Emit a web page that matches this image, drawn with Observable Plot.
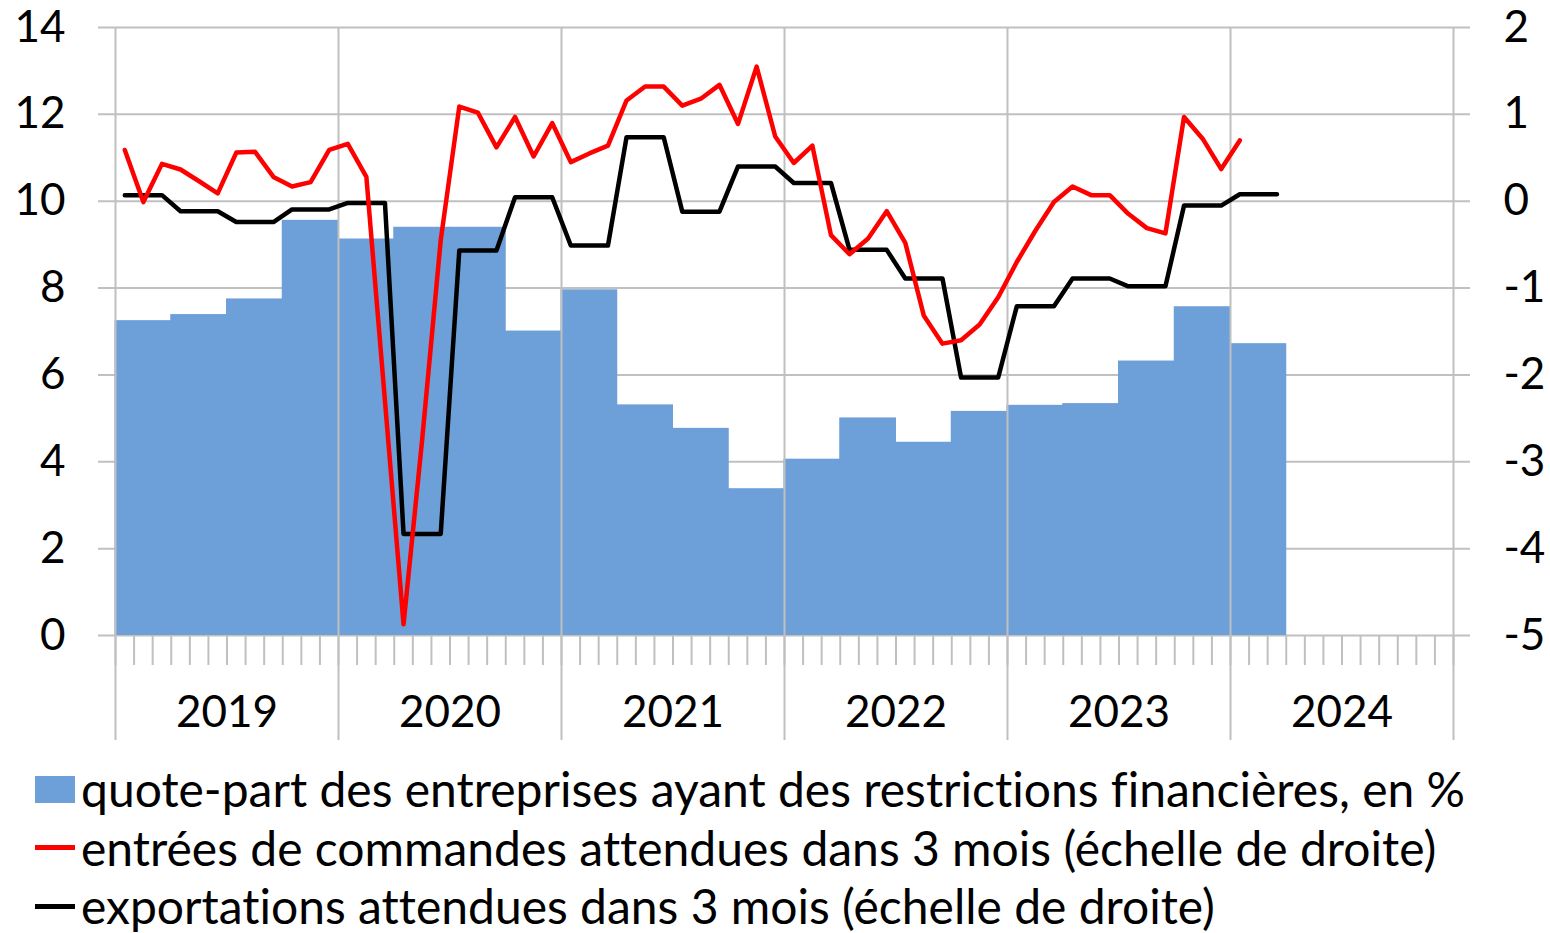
<!DOCTYPE html>
<html><head><meta charset="utf-8">
<script src="https://cdn.jsdelivr.net/npm/d3@7"></script>
<script src="https://cdn.jsdelivr.net/npm/@observablehq/plot@0.6"></script>
<style>
body{margin:0;background:#fff;font-family:Lato, sans-serif;overflow:hidden;color:#000}
#legend{padding-top:10px}
.row{display:flex;align-items:center;height:58.5px;line-height:58.5px;font-size:48px;white-space:nowrap;font-variant-ligatures:none;font-feature-settings:"liga" 0}
.sw{display:inline-block;width:40px;margin-left:35px;margin-right:6px;flex:none}
</style></head><body>
<div id="chart"></div>
<div id="legend"></div>
<script>
const years = ["2019","2020","2021","2022","2023","2024"];
// quarterly share of firms with financial restrictions, % (left axis), 2019Q1..2024Q1
const quarterShare = [7.25,7.39,7.75,9.56, 9.13,9.40,9.40,7.01, 7.96,5.31,4.77,3.38, 4.06,5.01,4.45,5.16, 5.30,5.34,6.32,7.57, 6.72];
// monthly expected order intake in 3 months (right axis), 2019-01..2024-01
const orders = [
  0.59,-0.01,0.43,0.365,0.23,0.09,0.56,0.57,0.28,0.17,0.22,0.59,
  0.66,0.28,-2.3,-4.87,-2.75,-0.45,1.09,1.02,0.62,0.97,0.515,0.90,
  0.45,0.55,0.64,1.16,1.32,1.32,1.10,1.18,1.34,0.89,1.55,0.745,
  0.44,0.64,-0.39,-0.61,-0.43,-0.115,-0.48,-1.32,-1.64,-1.60,-1.42,-1.105,
  -0.70,-0.34,-0.01,0.17,0.07,0.07,-0.145,-0.31,-0.37,0.97,0.72,0.37,
  0.70];
// monthly expected exports in 3 months (right axis), 2019-01..2024-03
const exportsExp = [
  0.07,0.07,0.07,-0.115,-0.115,-0.115,-0.24,-0.24,-0.24,-0.095,-0.095,-0.095,
  -0.02,-0.02,-0.02,-3.83,-3.83,-3.83,-0.567,-0.567,-0.567,0.046,0.046,0.046,
  -0.51,-0.51,-0.51,0.737,0.737,0.737,-0.12,-0.12,-0.12,0.40,0.40,0.40,
  0.21,0.21,0.21,-0.56,-0.56,-0.56,-0.89,-0.89,-0.89,-2.03,-2.03,-2.03,
  -1.21,-1.21,-1.21,-0.89,-0.89,-0.89,-0.98,-0.98,-0.98,-0.05,-0.05,-0.05,
  0.08,0.08,0.08];
const leftTicks = [0,2,4,6,8,10,12,14];
const rightTicks = [-5,-4,-3,-2,-1,0,1,2];
const legendLabels = [
  "quote-part des entreprises ayant des restrictions financières, en %",
  "entrées de commandes attendues dans 3 mois (échelle de droite)",
  "exportations attendues dans 3 mois (échelle de droite)"];
const colors = {bar:"#6d9fd9", orders:"#ff0000", exports:"#000000", grid:"#c0c0c0"};

// right axis value -> left axis position
const toLeft = r => (r + 5) * 2;
const nMonths = years.length * 12;
const bars = quarterShare.map((v, q) => ({x1: q * 3, x2: q * 3 + 3, v}));
const ordersData = orders.map((r, i) => ({x: i + 0.5, y: toLeft(r)}));
const exportsData = exportsExp.map((r, i) => ({x: i + 0.5, y: toLeft(r)}));
const yearBounds = d3.range(0, nMonths + 1, 12);
const monthBounds = d3.range(0, nMonths + 1);
const yearCenters = years.map((y, k) => k * 12 + 6);

const chart = Plot.plot({
  width: 1550, height: 750,
  marginLeft: 115, marginRight: 97, marginTop: 27, marginBottom: 115,
  style: {fontFamily: "Lato, sans-serif", fontSize: "44px", color: "#000", background: "#fff"},
  x: {type: "linear", domain: [0, nMonths], label: null},
  y: {domain: [0, 14], label: null},
  marks: [
    Plot.ruleY(leftTicks, {stroke: colors.grid, strokeWidth: 2, insetLeft: -17, insetRight: -17}),
    Plot.rectY(bars, {x1: "x1", x2: "x2", y: "v", fill: colors.bar, insetLeft: -0.5, insetRight: -0.5}),
    Plot.ruleX(yearBounds, {stroke: colors.grid, strokeWidth: 2, insetBottom: -105}),
    Plot.axisX(monthBounds, {tickSize: 30, stroke: colors.grid, strokeWidth: 2, tickFormat: () => "", label: null}),
    Plot.axisX(yearCenters, {tickSize: 0, tickPadding: 60, fontSize: 44, tickFormat: d => years[(d - 6) / 12], label: null}),
    Plot.axisY(leftTicks, {anchor: "left", tickSize: 0, tickPadding: 50, fontSize: 44, label: null}),
    Plot.axisY(rightTicks.map(toLeft), {anchor: "right", tickSize: 0, tickPadding: 50, textAnchor: "start", fontSize: 44, tickFormat: d => String(d / 2 - 5), label: null}),
    Plot.line(exportsData, {x: "x", y: "y", stroke: colors.exports, strokeWidth: 4.5, strokeLinejoin: "round", strokeLinecap: "round"}),
    Plot.line(ordersData, {x: "x", y: "y", stroke: colors.orders, strokeWidth: 4.5, strokeLinejoin: "round", strokeLinecap: "round"})
  ]
});
document.getElementById("chart").appendChild(chart);

const legend = document.getElementById("legend");
const swatches = [
  {h: 27, c: colors.bar},
  {h: 5, c: colors.orders},
  {h: 5, c: colors.exports}];
legendLabels.forEach((t, i) => {
  const row = document.createElement("div");
  row.className = "row";
  const sw = document.createElement("span");
  sw.className = "sw";
  sw.style.height = swatches[i].h + "px";
  sw.style.background = swatches[i].c;
  row.appendChild(sw);
  row.appendChild(document.createTextNode(t));
  legend.appendChild(row);
});
</script>
</body></html>
